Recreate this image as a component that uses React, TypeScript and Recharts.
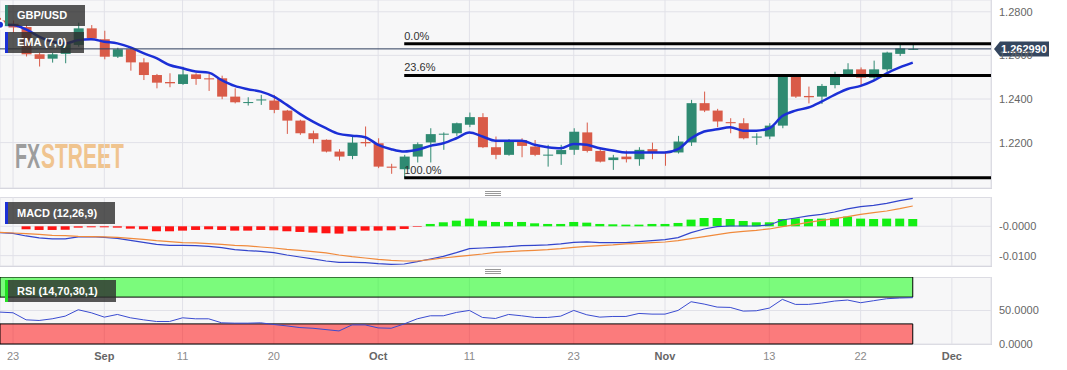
import React from "react";
import {
  ComposedChart,
  Bar,
  Line,
  XAxis,
  YAxis,
  CartesianGrid,
  ReferenceLine,
  ReferenceArea,
  Cell,
} from "recharts";

// daily GBP/USD candles, Aug 22 .. Nov 28 (index = trading day)
const opens = [
  1.2760, 1.2745, 1.2730, 1.2605, 1.2585, 1.2607, 1.2648, 1.2724, 1.2674, 1.2594,
  1.2628, 1.2568, 1.2510, 1.2478, 1.2469, 1.2513, 1.2495, 1.2495, 1.2411, 1.2383,
  1.2394, 1.2393, 1.2347, 1.2301, 1.2243, 1.2213, 1.2159, 1.2139, 1.2203, 1.2197,
  1.2090, 1.2078, 1.2136, 1.2201, 1.2239, 1.2243, 1.2282, 1.2317, 1.2179, 1.2144,
  1.2212, 1.2182, 1.2142, 1.2147, 1.2167, 1.2247, 1.2162, 1.2120, 1.2136, 1.2124,
  1.2170, 1.2156, 1.2155, 1.2201, 1.2381, 1.2347, 1.2294, 1.2289, 1.2223, 1.2228,
  1.2278, 1.2503, 1.2414, 1.2411, 1.2464, 1.2510, 1.2536, 1.2498, 1.2536, 1.2607,
  1.2628,
];
const highs = [
  1.2772, 1.2760, 1.2740, 1.2612, 1.2612, 1.2662, 1.2750, 1.2739, 1.2713, 1.2635,
  1.2635, 1.2587, 1.2515, 1.2518, 1.2548, 1.2518, 1.2518, 1.2507, 1.2449, 1.2408,
  1.2419, 1.2419, 1.2350, 1.2305, 1.2255, 1.2215, 1.2170, 1.2228, 1.2274, 1.2220,
  1.2103, 1.2144, 1.2201, 1.2266, 1.2247, 1.2292, 1.2338, 1.2335, 1.2228, 1.2216,
  1.2220, 1.2212, 1.2190, 1.2190, 1.2266, 1.2292, 1.2174, 1.2144, 1.2164, 1.2179,
  1.2200, 1.2160, 1.2231, 1.2396, 1.2434, 1.2355, 1.2312, 1.2312, 1.2243, 1.2289,
  1.2510, 1.2507, 1.2457, 1.2469, 1.2525, 1.2564, 1.2545, 1.2576, 1.2617, 1.2653,
  1.2651,
];
const lows = [
  1.2735, 1.2705, 1.2595, 1.2549, 1.2567, 1.2564, 1.2640, 1.2670, 1.2582, 1.2588,
  1.2530, 1.2487, 1.2449, 1.2454, 1.2465, 1.2465, 1.2437, 1.2399, 1.2380, 1.2370,
  1.2373, 1.2335, 1.2240, 1.2236, 1.2197, 1.2155, 1.2118, 1.2124, 1.2182, 1.2083,
  1.2057, 1.2039, 1.2109, 1.2109, 1.2167, 1.2231, 1.2271, 1.2175, 1.2124, 1.2140,
  1.2133, 1.2138, 1.2090, 1.2098, 1.2144, 1.2155, 1.2109, 1.2075, 1.2109, 1.2094,
  1.2124, 1.2094, 1.2150, 1.2185, 1.2340, 1.2271, 1.2243, 1.2215, 1.2190, 1.2216,
  1.2266, 1.2405, 1.2380, 1.2377, 1.2449, 1.2506, 1.2464, 1.2487, 1.2525, 1.2597,
  1.2625,
];
const closes = [
  1.2745, 1.2728, 1.2605, 1.2584, 1.2605, 1.2655, 1.2724, 1.2678, 1.2594, 1.2628,
  1.2568, 1.2510, 1.2475, 1.2472, 1.2513, 1.2492, 1.2490, 1.2411, 1.2385, 1.2386,
  1.2398, 1.2350, 1.2301, 1.2243, 1.2216, 1.2159, 1.2136, 1.2200, 1.2197, 1.2090,
  1.2085, 1.2136, 1.2193, 1.2239, 1.2241, 1.2289, 1.2317, 1.2179, 1.2144, 1.2205,
  1.2185, 1.2144, 1.2145, 1.2166, 1.2250, 1.2162, 1.2113, 1.2132, 1.2124, 1.2167,
  1.2157, 1.2153, 1.2205, 1.2381, 1.2347, 1.2297, 1.2289, 1.2220, 1.2228, 1.2278,
  1.2503, 1.2411, 1.2408, 1.2460, 1.2510, 1.2536, 1.2498, 1.2536, 1.2613, 1.2632,
  1.2630,
];
const ema7 = [
  1.2740, 1.2739, 1.2719, 1.2686, 1.2663, 1.2655, 1.2670, 1.2674, 1.2663, 1.2655,
  1.2637, 1.2610, 1.2587, 1.2556, 1.2541, 1.2526, 1.2521, 1.2487, 1.2460, 1.2445,
  1.2434, 1.2411, 1.2373, 1.2332, 1.2296, 1.2266, 1.2240, 1.2232, 1.2225, 1.2190,
  1.2170, 1.2159, 1.2167, 1.2185, 1.2197, 1.2220, 1.2246, 1.2228, 1.2209, 1.2209,
  1.2209, 1.2190, 1.2179, 1.2174, 1.2194, 1.2190, 1.2174, 1.2164, 1.2155, 1.2155,
  1.2155, 1.2155, 1.2170, 1.2220, 1.2251, 1.2261, 1.2271, 1.2255, 1.2255, 1.2266,
  1.2322, 1.2347, 1.2361, 1.2388, 1.2419, 1.2446, 1.2460, 1.2484, 1.2518, 1.2545,
  1.2567,
];
const macdLine = [
  -0.00216, -0.00239, -0.0033, -0.00398, -0.00432, -0.00432, -0.00364, -0.00353, -0.00376, -0.0041,
  -0.00478, -0.00546, -0.00615, -0.00649, -0.00649, -0.0066, -0.00683, -0.00728, -0.00797, -0.00831,
  -0.00854, -0.00899, -0.00979, -0.01047, -0.01115, -0.01184, -0.01229, -0.01229, -0.0124, -0.01275,
  -0.01297, -0.01286, -0.01206, -0.01115, -0.01024, -0.00899, -0.00762, -0.0074, -0.00717, -0.00694,
  -0.0066, -0.00649, -0.00637, -0.00603, -0.00546, -0.00535, -0.00558, -0.00558, -0.00558, -0.00523,
  -0.00489, -0.00455, -0.00387, -0.00216, -0.00091, -0.00011, 0.00011, 0.00011, 0.00011, 0.00046,
  0.00216, 0.00284, 0.00353, 0.0041, 0.00489, 0.00592, 0.00671, 0.00717, 0.00785, 0.00876,
  0.00956,
];
const signalLine = [
  -0.00205, -0.00228, -0.0025, -0.00273, -0.00307, -0.00319, -0.00341, -0.00353, -0.00364, -0.00376,
  -0.0041, -0.00444, -0.00489, -0.00523, -0.00558, -0.00569, -0.00592, -0.00615, -0.00649, -0.00671,
  -0.00706, -0.0074, -0.00785, -0.00819, -0.00865, -0.0091, -0.00979, -0.01036, -0.01081, -0.01127,
  -0.01161, -0.01184, -0.01184, -0.01138, -0.01081, -0.01036, -0.0099, -0.00945, -0.00888, -0.00865,
  -0.00842, -0.00819, -0.00797, -0.00762, -0.00717, -0.00683, -0.0066, -0.00637, -0.00603, -0.0058,
  -0.00558, -0.00535, -0.00489, -0.00421, -0.00353, -0.00285, -0.00216, -0.00171, -0.00137, -0.00091,
  -0.00011, 0.00057, 0.00137, 0.00205, 0.00262, 0.0033, 0.0041, 0.00467, 0.00523, 0.00603,
  0.00694,
];
const macdHist = [
  null, null, -0.00102, -0.00125, -0.00125, -0.00114, -0.00046, -0.00034, -0.00034, -0.00046,
  -0.0008, -0.00102, -0.0017, -0.0017, -0.00148, -0.00125, -0.00102, -0.00125, -0.00148, -0.00148,
  -0.00125, -0.00137, -0.0017, -0.00193, -0.00216, -0.00239, -0.0025, -0.0017, -0.00148, -0.00148,
  -0.00137, -0.00091, -0.0002, 0.0008, 0.00137, 0.00193, 0.00262, 0.00193, 0.00148, 0.00148,
  0.00148, 0.00102, 0.0008, 0.0008, 0.00148, 0.00125, 0.0008, 0.00068, 0.00057, 0.00057,
  0.0008, 0.0008, 0.00114, 0.00228, 0.00284, 0.00284, 0.0025, 0.00182, 0.00137, 0.00137,
  0.0025, 0.00273, 0.0025, 0.00262, 0.00284, 0.0033, 0.00262, 0.0025, 0.00262, 0.00262,
  0.0025,
];
const rsi14 = [
  47.6, 46.6, 36.1, 35.1, 37.6, 41.6, 51.1, 46.6, 40.1, 44.1,
  39.1, 36.1, 33.6, 33.6, 39.1, 37.6, 37.6, 31.6, 31.1, 31.1,
  31.6, 29.1, 27.0, 24.5, 23.5, 21.5, 19.5, 28.5, 28.5, 24.0,
  23.5, 30.0, 37.6, 42.1, 42.1, 47.1, 50.1, 39.6, 38.1, 44.1,
  42.1, 39.6, 39.6, 41.6, 50.1, 43.6, 40.1, 41.1, 41.1, 45.6,
  44.6, 44.6, 50.1, 63.1, 59.6, 55.1, 54.6, 49.1, 49.6, 53.6,
  66.6, 59.1, 59.1, 61.1, 64.1, 65.6, 61.6, 64.6, 67.6, 68.6,
  69.1,
];

const dateTicks = [1, 8, 14, 21, 29, 36, 44, 51, 59, 66, 73];
const dateLabels = ["23", "Sep", "11", "20", "Oct", "11", "23", "Nov", "13", "22", "Dec"];
const monthLabels = ["Sep", "Oct", "Nov", "Dec"];

const priceTicks = [1.2, 1.22, 1.24, 1.26, 1.28];
const macdTicks = [-0.01, 0];
const macdTickLabels = ["-0.0100", "-0.0000"];
const rsiTicks = [0, 50];
const rsiTickLabels = ["0.0000", "50.0000"];

const lastPrice = 1.26299;
const fibHigh = 1.2653;
const fibLow = 1.2039;
const fibLevels = [0, 23.6, 100];
const fibLabels = ["0.0%", "23.6%", "100.0%"];
const fibStart = 31;

const X_DOMAIN = [0, 76];
const UP = "#2f8a72";
const DOWN = "#d95b48";
const GRID = "#e1e1e8";
const FONT = "'Liberation Sans', Arial, sans-serif";

const rows = closes.map((c, i) => ({
  i,
  open: opens[i],
  high: highs[i],
  low: lows[i],
  close: c,
  ema: ema7[i],
  macd: macdLine[i],
  signal: signalLine[i],
  hist: macdHist[i],
  rsi: rsi14[i],
}));

const Candle = (props: any) => {
  const { x, y, width, height, payload } = props;
  if (!payload) return null;
  const { open, close, high, low } = payload;
  const color = close >= open ? UP : DOWN;
  const top = Math.min(y, y + height);
  const h = Math.abs(height);
  const k = high > low ? h / (high - low) : 0;
  const b1 = top + (high - Math.max(open, close)) * k;
  const b2 = top + (high - Math.min(open, close)) * k;
  const cx = x + width / 2;
  return (
    <g>
      <line x1={cx} x2={cx} y1={top} y2={top + h} stroke={color} strokeWidth={1} />
      <rect x={x} y={b1} width={width} height={Math.max(1, b2 - b1)} fill={color} />
    </g>
  );
};

const PriceTag = (props: any) => {
  const vb = props.viewBox;
  if (!vb) return null;
  const x0 = vb.x + vb.width + 3;
  const y0 = vb.y;
  return (
    <g>
      <path
        d={`M${x0} ${y0} L${x0 + 6} ${y0 - 7.5} L${x0 + 55} ${y0 - 7.5} L${x0 + 55} ${y0 + 7.5} L${x0 + 6} ${y0 + 7.5} Z`}
        fill="#34465f"
      />
      <text x={x0 + 7} y={y0} dy="0.36em" fill="#fff" fontSize={11} fontWeight="bold">
        {lastPrice.toFixed(6)}
      </text>
    </g>
  );
};

const FibLabel = (props: any) => {
  const vb = props.viewBox;
  if (!vb) return null;
  return (
    <text x={vb.x} y={vb.y - 4} fill="#333" fontSize={11}>
      {props.text}
    </text>
  );
};

const DateTick = (props: any) => {
  const { x, y, payload } = props;
  const label = dateLabels[dateTicks.indexOf(payload.value)];
  const month = monthLabels.includes(label);
  return (
    <text
      x={x}
      y={y}
      dy="0.71em"
      textAnchor="middle"
      fontSize={11}
      fontWeight={month ? "bold" : "normal"}
      fill={month ? "#666" : "#8a8a8a"}
    >
      {label}
    </text>
  );
};

const legendBox = (left: number, top: number, w: number, h: number, mark: string, text: string) => (
  <div
    style={{
      position: "absolute",
      left,
      top,
      width: w,
      height: h,
      background: "rgba(45,45,45,0.8)",
      color: "#fff",
      fontSize: 11,
      fontWeight: "bold",
      lineHeight: `${h}px`,
      paddingLeft: 12,
      boxSizing: "border-box",
    }}
  >
    <div style={{ position: "absolute", left: 0, top: 0, width: 3, height: h, background: mark }} />
    {text}
  </div>
);

const panel = (top: number, h: number) => (
  <div
    style={{
      position: "absolute",
      left: 0,
      top,
      width: 992,
      height: h,
      background: "#f7f7f8",
      borderTop: top > 0 ? "1px solid #d6d6de" : "none",
      borderBottom: "1px solid #d6d6de",
      borderRight: "1px solid #d6d6de",
      boxSizing: "border-box",
    }}
  />
);

const handle = (top: number) => (
  <div
    style={{
      position: "absolute",
      left: 485,
      top,
      width: 16,
      height: 5,
      borderTop: "1px solid #999",
      borderBottom: "1px solid #999",
      boxSizing: "border-box",
    }}
  >
    <div style={{ marginTop: 1, height: 1, background: "#999" }} />
  </div>
);

export default function App() {
  const fibPrice = (lvl: number) => fibHigh - (fibHigh - fibLow) * (lvl / 100);
  return (
    <div
      style={{
        position: "absolute",
        left: 0,
        top: 0,
        width: 1067,
        height: 370,
        background: "#fff",
        fontFamily: FONT,
        overflow: "hidden",
      }}
    >
      {panel(0, 189)}
      {panel(197, 70)}
      {panel(277, 68)}
      {handle(191)}
      {handle(269)}

      <svg style={{ position: "absolute", left: 0, top: 0 }} width={200} height={188}>
        <g transform="translate(15,168) scale(0.56,1)">
          <text x={0} y={0} fontSize={35} fontWeight="bold" fill="#9d9d9d">
            FX
          </text>
        </g>
        <g transform="translate(41,168) scale(0.6,1)">
          <text x={0} y={0} fontSize={35} fontWeight="bold" fill="#f0c48f">
            STREET
          </text>
        </g>
      </svg>

      <div style={{ position: "absolute", left: 0, top: 0 }}>
        <ComposedChart width={1067} height={188} data={rows} margin={{ top: 0, right: 0, bottom: 0, left: 0 }}>
          <CartesianGrid stroke={GRID} />
          <XAxis dataKey="i" type="number" domain={X_DOMAIN} ticks={dateTicks} hide allowDataOverflow />
          <YAxis
            orientation="right"
            width={76}
            domain={[1.1992, 1.2854]}
            ticks={priceTicks}
            allowDataOverflow
            axisLine={false}
            tickLine={false}
            tickSize={0}
            tickMargin={8}
            tick={{ fill: "#666", fontSize: 11 }}
            tickFormatter={(v: number) => v.toFixed(4)}
          />
          <Bar
            dataKey={(d: any) => [d.low, d.high]}
            barSize={10}
            shape={<Candle />}
            isAnimationActive={false}
          />
          <Line
            dataKey="ema"
            type="monotone"
            stroke="#1b2fd6"
            strokeWidth={2.5}
            dot={false}
            isAnimationActive={false}
          />
          {fibLevels.map((lvl, k) => (
            <ReferenceLine
              key={lvl}
              segment={[
                { x: fibStart, y: fibPrice(lvl) },
                { x: X_DOMAIN[1], y: fibPrice(lvl) },
              ]}
              stroke="#000"
              strokeWidth={3}
              label={<FibLabel text={fibLabels[k]} />}
            />
          ))}
          <ReferenceLine y={lastPrice} stroke="#2d3d5e" strokeWidth={1} label={<PriceTag />} />
        </ComposedChart>
      </div>

      <div style={{ position: "absolute", left: 0, top: 197 }}>
        <ComposedChart width={1067} height={69} data={rows} margin={{ top: 0, right: 0, bottom: 0, left: 0 }}>
          <CartesianGrid stroke={GRID} />
          <XAxis dataKey="i" type="number" domain={X_DOMAIN} ticks={dateTicks} hide allowDataOverflow />
          <YAxis
            orientation="right"
            width={76}
            domain={[-0.01355, 0.01]}
            ticks={macdTicks}
            allowDataOverflow
            axisLine={false}
            tickLine={false}
            tickSize={0}
            tickMargin={8}
            tick={{ fill: "#666", fontSize: 11 }}
            tickFormatter={(v: number) => macdTickLabels[macdTicks.indexOf(v)]}
          />
          <Bar dataKey="hist" barSize={9} isAnimationActive={false}>
            {rows.map((r) => (
              <Cell key={r.i} fill={(r.hist ?? 0) >= 0 ? "#14ef14" : "#ff1414"} />
            ))}
          </Bar>
          <Line dataKey="macd" stroke="#3345cc" strokeWidth={1.2} dot={false} isAnimationActive={false} />
          <Line dataKey="signal" stroke="#f08a3c" strokeWidth={1.2} dot={false} isAnimationActive={false} />
        </ComposedChart>
      </div>

      <div style={{ position: "absolute", left: 0, top: 277 }}>
        <ComposedChart width={1067} height={93} data={rows} margin={{ top: 0, right: 0, bottom: 0, left: 0 }}>
          <CartesianGrid stroke={GRID} />
          <XAxis
            dataKey="i"
            type="number"
            domain={X_DOMAIN}
            ticks={dateTicks}
            allowDataOverflow
            height={26}
            axisLine={false}
            tickLine={false}
            tickSize={0}
            tickMargin={8}
            tick={<DateTick />}
          />
          <YAxis
            orientation="right"
            width={76}
            domain={[0, 100]}
            ticks={rsiTicks}
            axisLine={false}
            tickLine={false}
            tickSize={0}
            tickMargin={8}
            tick={{ fill: "#666", fontSize: 11 }}
            tickFormatter={(v: number) => rsiTickLabels[rsiTicks.indexOf(v)]}
          />
          <ReferenceArea x1={0} x2={rows.length - 1} y1={70} y2={100} fill="#00ff00" fillOpacity={0.5} stroke="#000" strokeWidth={1} />
          <ReferenceArea x1={0} x2={rows.length - 1} y1={0} y2={30} fill="#ff0000" fillOpacity={0.5} stroke="#000" strokeWidth={1} />
          <Line dataKey="rsi" stroke="#3a4bd0" strokeWidth={1} dot={false} isAnimationActive={false} />
        </ComposedChart>
      </div>

      {legendBox(5, 5, 80, 21, "#2f8a72", "GBP/USD")}
      {legendBox(5, 32, 79, 21, "#1b2fd6", "EMA (7,0)")}
      {legendBox(5, 202, 110, 22, "#1b2fd6", "MACD (12,26,9)")}
      {legendBox(5, 280, 111, 22, "#22e022", "RSI (14,70,30,1)")}
    </div>
  );
}
